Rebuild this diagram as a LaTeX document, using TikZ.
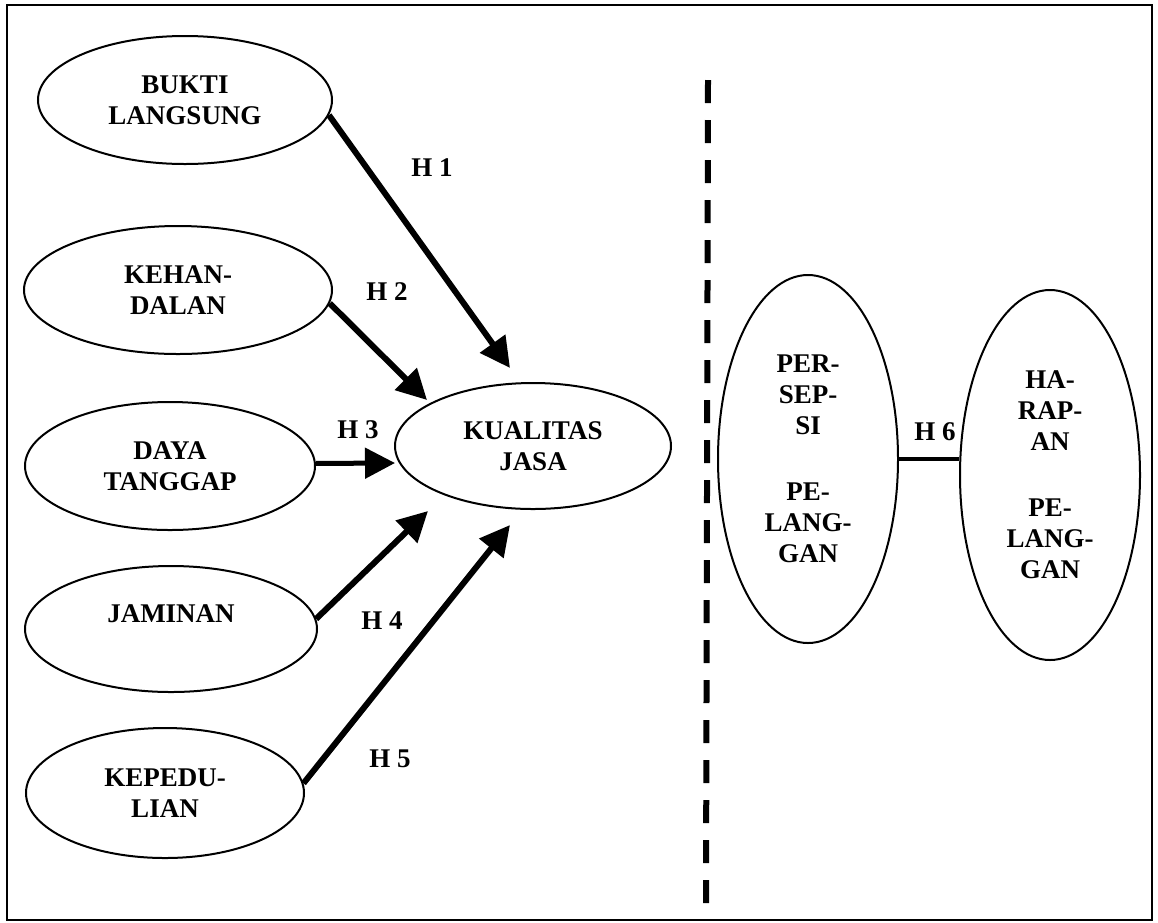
\documentclass[tikz,border=0pt]{standalone}
\usepackage{fontspec}
\setmainfont{Liberation Serif}
\usetikzlibrary{arrows.meta,shapes.geometric}
\newcommand\labfont{\bfseries\fontsize{27}{31}\selectfont}
\begin{document}
\begin{tikzpicture}[x=1pt,y=-1pt,
  oval/.style={ellipse,draw,line width=2pt,inner sep=0pt,align=center,font=\labfont},
  arr/.style={line width=6pt,-{Triangle[length=30pt,width=30pt]}},
  hlab/.style={font=\labfont,inner sep=0pt},
  sepline/.style={line width=6pt,dash pattern=on 23pt off 17pt}]
\useasboundingbox (0,0) rectangle (1158,922);
% frame
\draw[line width=2pt] (7,5) rectangle (1152,920);
% dashed separator
\coordinate (dtop) at (708,80);
\coordinate (dbot) at (706,903);
\draw[sepline] (dtop) -- (dbot);
% left ellipses
\node[oval,minimum width=294pt,minimum height=128pt] (bukti) at (185,100) {BUKTI\\LANGSUNG};
\node[oval,minimum width=308pt,minimum height=128pt] (kehan) at (178,290) {KEHAN-\\DALAN};
\node[oval,minimum width=290pt,minimum height=128pt] (daya) at (170,466) {DAYA\\TANGGAP};
\node[oval,minimum width=292pt,minimum height=126pt] (jaminan) at (171,629) {JAMINAN\\\mbox{}};
\node[oval,minimum width=278pt,minimum height=130pt] (kepedulian) at (165,793) {KEPEDU-\\LIAN};
\node[oval,minimum width=276pt,minimum height=126pt] (kualitas) at (533,446) {KUALITAS\\JASA};
% right ellipses
\node[oval,minimum width=180pt,minimum height=368pt] (persepsi) at (808,459) {PER-\\SEP-\\SI\\[35pt]PE-\\LANG-\\GAN};
\node[oval,minimum width=180pt,minimum height=370pt] (harapan) at (1050,475) {HA-\\RAP-\\AN\\[35pt]PE-\\LANG-\\GAN};
% arrow tips near KUALITAS JASA
\coordinate (t1) at (510,368);
\coordinate (t2) at (427,400);
\coordinate (t3) at (395,463);
\coordinate (t4) at (428,511);
\coordinate (t5) at (510,525);
\draw[arr] (bukti.-6) -- (t1);
\draw[arr] (kehan.-5) -- (t2);
\draw[arr,line width=5pt] (daya.1) -- (t3);
\draw[arr] (jaminan.4) -- (t4);
\draw[arr] (kepedulian.4) -- (t5);
\draw[line width=4.5pt] (persepsi.east) -- (persepsi.east -| harapan.west);
% labels
\node[hlab] (h1) at (432,168) {H 1};
\node[hlab] (h2) at (387,292) {H 2};
\node[hlab] (h3) at (358,430) {H 3};
\node[hlab] (h4) at (382,621) {H 4};
\node[hlab] (h5) at (390,759) {H 5};
\node[hlab] (h6) at (935,432) {H 6};
\end{tikzpicture}
\end{document}
